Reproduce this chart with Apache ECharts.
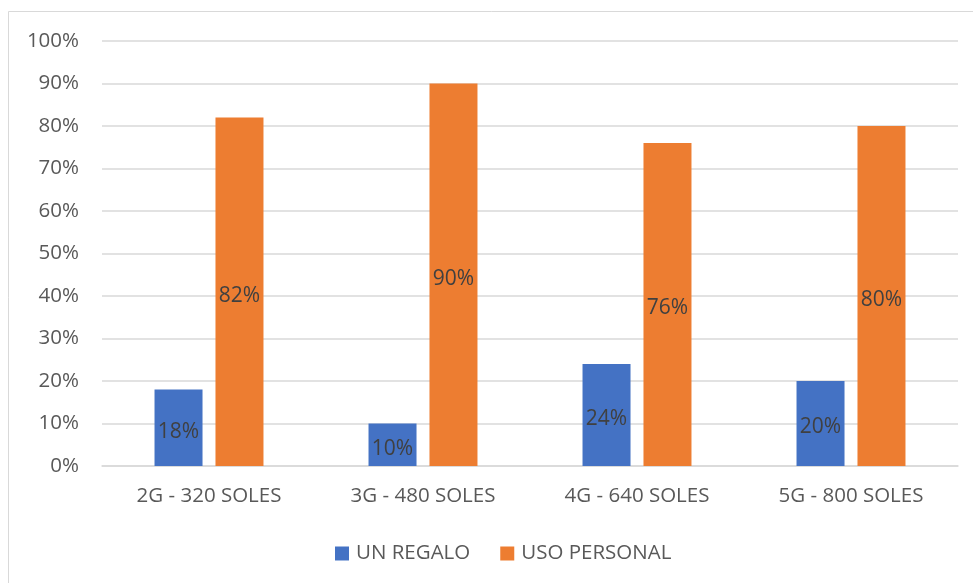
<!DOCTYPE html>
<html>
<head>
<meta charset="utf-8">
<style>
  html, body { margin: 0; padding: 0; background: #ffffff; }
  #chart { width: 973px; height: 583px; }
</style>
<script src="https://cdn.jsdelivr.net/npm/echarts@6/dist/echarts.min.js"></script>
</head>
<body>
<div id="chart"></div>
<script>
// Plan categories and answer shares (percent)
const categories = ['2G - 320 SOLES', '3G - 480 SOLES', '4G - 640 SOLES', '5G - 800 SOLES'];
const unRegalo = [18, 10, 24, 20];
const usoPersonal = [82, 90, 76, 80];
const seriesNames = ['UN REGALO', 'USO PERSONAL'];

const FONT = 'Open Sans';
const TEXT = '#595959';

const chart = echarts.init(document.getElementById('chart'), null, { renderer: 'canvas' });

const labelStyle = {
  show: true,
  position: 'inside',
  offset: [0, 4],
  formatter: p => p.value + '%',
  color: '#404040',
  fontFamily: FONT,
  fontSize: 21
};

chart.setOption({
  animation: false,
  backgroundColor: '#ffffff',
  graphic: [{
    type: 'rect',
    silent: true,
    shape: { x: 8.5, y: 11.5, width: 1000, height: 1000 },
    style: { fill: 'none', stroke: '#d9d9d9', lineWidth: 1 }
  }],
  grid: { left: 102, right: 15, top: 41, bottom: 117 },
  legend: {
    data: seriesNames,
    top: 538,
    left: 330,
    itemWidth: 14,
    itemHeight: 14,
    itemGap: 30,
    icon: 'rect',
    textStyle: { color: TEXT, fontFamily: FONT, fontSize: 20.5, padding: [0, 0, 0, 2] }
  },
  xAxis: {
    type: 'category',
    data: categories,
    axisLine: { lineStyle: { color: '#d9d9d9', width: 1.5 } },
    axisTick: { show: false },
    axisLabel: { color: TEXT, fontFamily: FONT, fontSize: 20.5, margin: 20 }
  },
  yAxis: {
    type: 'value',
    min: 0,
    max: 100,
    interval: 10,
    axisLine: { show: false },
    axisTick: { show: false },
    splitLine: { lineStyle: { color: '#d9d9d9', width: 1.5 } },
    axisLabel: { color: TEXT, fontFamily: FONT, fontSize: 20.5, margin: 23, formatter: '{value}%' }
  },
  series: [
    {
      name: seriesNames[0],
      type: 'bar',
      data: unRegalo,
      barWidth: 48,
      barGap: '27%',
      itemStyle: { color: '#4472c4' },
      label: labelStyle
    },
    {
      name: seriesNames[1],
      type: 'bar',
      data: usoPersonal,
      barWidth: 48,
      itemStyle: { color: '#ed7d31' },
      label: labelStyle
    }
  ]
});
</script>
</body>
</html>
